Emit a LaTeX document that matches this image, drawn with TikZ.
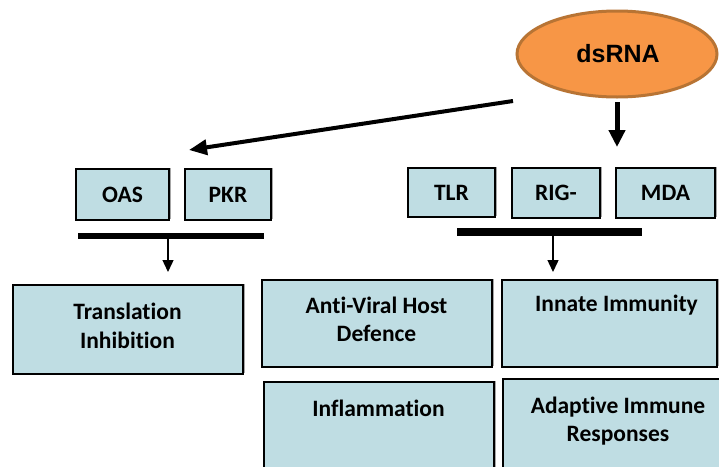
\documentclass[tikz,border=0pt]{standalone}
\usepackage{fontspec}
\setmainfont{Carlito}[Ligatures=CommonOff]
\newfontfamily\arialfont{Liberation Sans}
\usetikzlibrary{shapes.geometric,arrows.meta,shadows}
\definecolor{boxfill}{RGB}{191,221,227}
\definecolor{orfill}{RGB}{247,150,70}
\definecolor{orline}{RGB}{184,116,52}
\tikzset{
  box/.style={draw=black,line width=1.4pt,fill=boxfill,inner sep=0pt,
    drop shadow={shadow xshift=1.5pt,shadow yshift=1.5pt,opacity=0.35,fill=black}},
  txt/.style={font=\fontsize{23.5}{28.5}\selectfont\bfseries,align=center,inner sep=0pt},
  bar/.style={line width=6.5pt,draw=black},
  bigarrow/.style={line width=4pt,-{Triangle[length=18pt,width=15pt]}},
  smallarrow/.style={line width=1.4pt,-{Triangle[length=12pt,width=11pt]}}
}
\begin{document}
\begin{tikzpicture}[x=1pt,y=-1pt]
\clip (0,0) rectangle (719,466);
\fill[white] (0,0) rectangle (719,466);
% dsRNA
\node[ellipse,draw=orline,line width=3pt,fill=orfill,minimum width=200pt,minimum height=86pt,inner sep=0pt] (ds) at (617,54) {};
\node[font=\arialfont\fontsize{25}{28}\selectfont\bfseries] (dst) at (618,54) {dsRNA};
% top boxes
\node[box,minimum width=93pt,minimum height=51pt] (oas) at (122.5,194.5) {};
\node[txt] at (oas) {OAS};
\node[box,minimum width=86pt,minimum height=51pt] (pkr) at (228,194.5) {};
\node[txt] at (pkr) {PKR};
\node[box,minimum width=87pt,minimum height=49pt] (tlr) at (451.5,192.5) {};
\node[txt] at (tlr) {TLR};
\node[box,minimum width=88pt,minimum height=50pt] (rig) at (556,193) {};
\node[txt] at (rig) {RIG-};
\node[box,minimum width=99pt,minimum height=50pt] (mda) at (665.5,193) {};
\node[txt] at (mda) {MDA};
% bottom boxes
\node[box,minimum width=230pt,minimum height=89pt] (ti) at (128,329.5) {};
\node[txt] (tit) at (127.5,326) {Translation\\Inhibition};
\node[box,minimum width=230pt,minimum height=87pt] (av) at (377,323.5) {};
\node[txt] (avt) at (376.5,319.5) {Anti-Viral Host\\Defence};
\node[box,minimum width=215pt,minimum height=87pt] (ii) at (609.5,323.5) {};
\node[txt] (iit) at (616.5,305) {Innate Immunity};
\node[box,minimum width=230pt,minimum height=98pt] (inf) at (379,431) {};
\node[txt] (inft) at (378.5,408) {Inflammation};
\node[box,minimum width=222pt,minimum height=101pt] (ad) at (614,429.5) {};
\node[txt] (adt) at (618,421) {Adaptive Immune\\Responses};
% bars
\coordinate (lb1) at (78,236);
\coordinate (lb2) at (264,236);
\coordinate (rb1) at (457,232);
\coordinate (rb2) at (642,232);
\draw[bar] (lb1) -- (lb2);
\draw[bar,line width=7.5pt] (rb1) -- (rb2);
% arrows
\coordinate (s1) at (513,101);
\coordinate (e1) at (189,150);
\coordinate (s2) at (617,102);
\coordinate (e2) at (617,147);
\draw[bigarrow] (s1) -- (e1);
\draw[line width=5pt,-{Triangle[length=17pt,width=16pt]}] (s2) -- (e2);
\coordinate (la1) at (168,239);
\coordinate (la2) at (168,272);
\coordinate (ra1) at (553,236);
\coordinate (ra2) at (553,272);
\draw[smallarrow] (la1) -- (la2);
\draw[smallarrow] (ra1) -- (ra2);
\end{tikzpicture}
\end{document}
